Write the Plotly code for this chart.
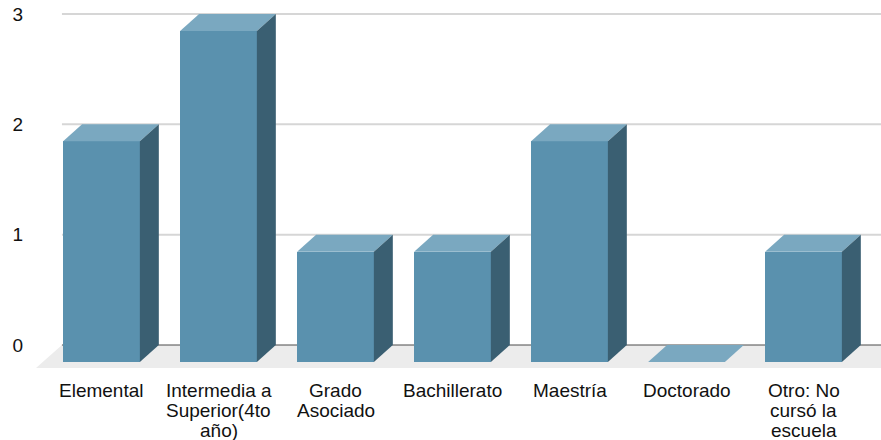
import plotly.graph_objects as go

categories = ["Elemental", "Intermedia a\nSuperior(4to\naño)", "Grado\nAsociado",
              "Bachillerato", "Maestría", "Doctorado", "Otro: No\ncursó la\nescuela"]
values = [2, 3, 1, 1, 2, 0, 1]
y_ticks = [0, 1, 2, 3]

FRONT = "#5a91ae"
TOP = "#7aa8c0"
SIDE = "#3a5f72"
FLOOR = "#ececec"
GRID = "#d6d6d6"
ZERO = "#4a4a4a"

# geometry (in axis units)
half_w = 0.328      # half width of bar front
dx = 0.162          # depth offset x
dz = 0.154          # depth offset y
floor_dx = 0.222
floor_dz = 0.2085
wall_left = -0.338
x_range = [-0.6111, 6.6624]
y_range = [-0.2447, 3.127]

fig = go.Figure()
idx = list(range(len(categories)))

# floor (below traces)
fx0 = wall_left
fx1 = 7.5
floor_path = (f"M {fx0},0 L {fx1},0 L {fx1 - floor_dx},{-floor_dz} "
              f"L {fx0 - floor_dx},{-floor_dz} Z")
fig.add_shape(type="path", path=floor_path, xref="x", yref="y",
              fillcolor=FLOOR, line=dict(width=0), layer="below")

# grid lines on back wall
for t in y_ticks:
    fig.add_shape(type="line", x0=wall_left, x1=fx1, y0=t, y1=t, xref="x", yref="y",
                  line=dict(color=ZERO if t == 0 else GRID, width=1 if t == 0 else 2),
                  layer="below")

# bars: front face
fig.add_trace(go.Bar(
    x=idx, y=values, base=[-dz] * len(values), width=2 * half_w,
    marker=dict(color=FRONT, line=dict(width=0)), hoverinfo="skip", showlegend=False))

for i, v in zip(idx, values):
    x0, x1 = i - half_w, i + half_w
    # top face
    fig.add_trace(go.Scatter(
        x=[x0, x1, x1 + dx, x0 + dx, x0],
        y=[v - dz, v - dz, v, v, v - dz],
        fill="toself", fillcolor=TOP, line=dict(width=0), mode="lines",
        hoverinfo="skip", showlegend=False))
    # side face
    if v > 0:
        fig.add_trace(go.Scatter(
            x=[x1, x1, x1 + dx, x1 + dx, x1],
            y=[-dz, v - dz, v, 0, -dz],
            fill="toself", fillcolor=SIDE, line=dict(width=0), mode="lines",
            hoverinfo="skip", showlegend=False))

font = dict(family="Liberation Sans, Arial, sans-serif", size=19, color="#111111")

# category labels (tight line spacing like the original)
for i, label in zip(idx, categories):
    for k, line in enumerate(label.split("\n")):
        fig.add_annotation(x=i, y=0, xref="x", yref="paper", text=line,
                           showarrow=False, xanchor="center", yanchor="top",
                           yshift=-(6 + 20 * k), font=font)

fig.update_layout(
    width=881, height=440,
    margin=dict(l=30, r=0, t=0, b=68),
    plot_bgcolor="white", paper_bgcolor="white",
    font=font, bargap=0,
    xaxis=dict(range=x_range, showticklabels=False,
               showgrid=False, zeroline=False, showline=False, ticks="",
               fixedrange=True),
    yaxis=dict(range=y_range, tickmode="array", tickvals=y_ticks,
               ticktext=[str(t) for t in y_ticks],
               showgrid=False, zeroline=False, showline=False, ticks="",
               tickfont=font, ticklabelstandoff=6, fixedrange=True),
)

fig.write_html("out.html")
